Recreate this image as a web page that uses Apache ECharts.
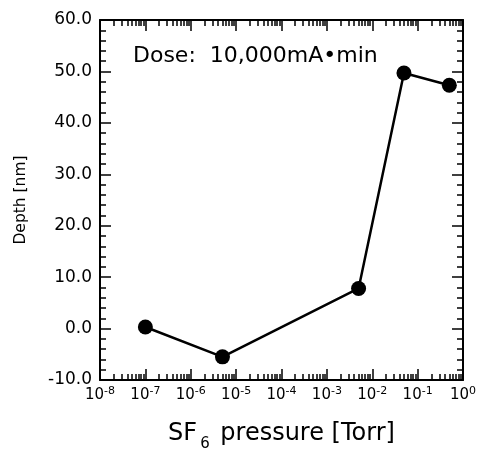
<!DOCTYPE html>
<html>
<head>
<meta charset="utf-8">
<script src="https://cdn.jsdelivr.net/npm/echarts@6/dist/echarts.min.js"></script>
<style>html,body{margin:0;padding:0;background:#fff}#c{width:478px;height:450px}</style>
</head>
<body>
<div id="c"></div>
<script>
// ---- data ----
var pressureTorr = [1e-7, 5e-6, 5e-3, 5e-2, 0.5];
var depthNm = [0.3, -5.5, 7.8, 49.7, 47.3];
var xDecadeExponents = [-8, -7, -6, -5, -4, -3, -2, -1, 0];
var yTickValues = [-10, 0, 10, 20, 30, 40, 50, 60];
var annotation = 'Dose:  10,000mA\u2022min';
var xTitleMain = 'SF', xTitleSub = '6', xTitleRest = ' pressure [Torr]';
var yTitle = 'Depth [nm]';

var FONT = '"DejaVu Sans", "Liberation Sans", Arial, sans-serif';
var majorVals = xDecadeExponents.map(function (e) { return Math.pow(10, e); });
var minorVals = [];
for (var i = 0; i < xDecadeExponents.length - 1; i++) {
  for (var m = 2; m <= 9; m++) minorVals.push(m * Math.pow(10, xDecadeExponents[i]));
}
var seriesData = pressureTorr.map(function (p, i) { return [p, depthNm[i]]; });
function makeGrid() {
  return { left: 100, right: 15, top: 20, bottom: 70, containLabel: false, outerBoundsMode: 'none' };
}

function logAxis(g, pos, tickVals, len, showLabel, showLine) {
  return {
    type: 'log', logBase: 10, min: 1e-8, max: 1, position: pos, gridIndex: g,
    axisLine: { show: showLine, onZero: false, lineStyle: { color: '#000', width: 2 } },
    axisTick: { show: true, inside: true, length: len, customValues: tickVals, lineStyle: { color: '#000', width: 1.5 } },
    axisLabel: showLabel ? {
      show: true, customValues: majorVals, margin: 6, hideOverlap: false,
      formatter: function (v) {
        var e = Math.round(Math.log10(v));
        return '{b|10}{s|' + e + '}';
      },
      rich: {
        b: { fontFamily: FONT, fontSize: 15, color: '#000', lineHeight: 18 },
        s: { fontFamily: FONT, fontSize: 11, color: '#000', padding: [0, 0, 8, 0] }
      }
    } : { show: false },
    splitLine: { show: false }
  };
}
function valAxis(g, pos, showLabel, show) {
  return {
    type: 'value', min: -10, max: 60, interval: 10, position: pos, gridIndex: g, show: show,
    axisLine: { show: true, onZero: false, lineStyle: { color: '#000', width: 2 } },
    axisTick: { show: true, inside: true, length: 11, lineStyle: { color: '#000', width: 1.5 } },
    minorTick: { show: true, splitNumber: 5, length: 6, lineStyle: { color: '#000', width: 1.5 } },
    axisLabel: showLabel ? {
      show: true, margin: 8, fontFamily: FONT, fontSize: 17, color: '#000',
      formatter: function (v) { return v.toFixed(1); }
    } : { show: false },
    splitLine: { show: false },
    name: showLabel ? yTitle : '',
    nameLocation: 'middle', nameGap: 71,
    nameTextStyle: { fontFamily: FONT, fontSize: 15.5, color: '#000' }
  };
}

var xMain = logAxis(0, 'bottom', majorVals, 11, true, true);
xMain.name = '{a|' + xTitleMain + '}{s|' + xTitleSub + '}{a|' + xTitleRest + '}';
xMain.nameLocation = 'middle';
xMain.nameGap = 35;
xMain.nameTextStyle = {
  rich: {
    a: { fontFamily: FONT, fontSize: 24, color: '#000', lineHeight: 28 },
    s: { fontFamily: FONT, fontSize: 15, color: '#000', padding: [22, 3, 0, 3] }
  }
};

var chart = echarts.init(document.getElementById('c'), null, { renderer: 'canvas' });
chart.setOption({
  animation: false,
  backgroundColor: '#fff',
  grid: [makeGrid(), makeGrid(), makeGrid(), makeGrid()],
  title: {
    text: annotation, left: 128, top: 40,
    textStyle: { fontFamily: FONT, fontSize: 22, fontWeight: 'normal', color: '#000' }
  },
  xAxis: [
    xMain,
    logAxis(1, 'bottom', minorVals, 6, false, false),
    logAxis(2, 'top', majorVals, 11, false, true),
    logAxis(3, 'top', minorVals, 6, false, false)
  ],
  yAxis: [
    valAxis(0, 'left', true, true),
    valAxis(1, 'right', false, true),
    valAxis(2, 'left', false, false),
    valAxis(3, 'left', false, false)
  ],
  series: [{
    type: 'line', xAxisIndex: 0, yAxisIndex: 0, data: seriesData,
    symbol: 'circle', symbolSize: 15,
    itemStyle: { color: '#000' },
    lineStyle: { color: '#000', width: 2.5 }
  }]
});
</script>
</body>
</html>
